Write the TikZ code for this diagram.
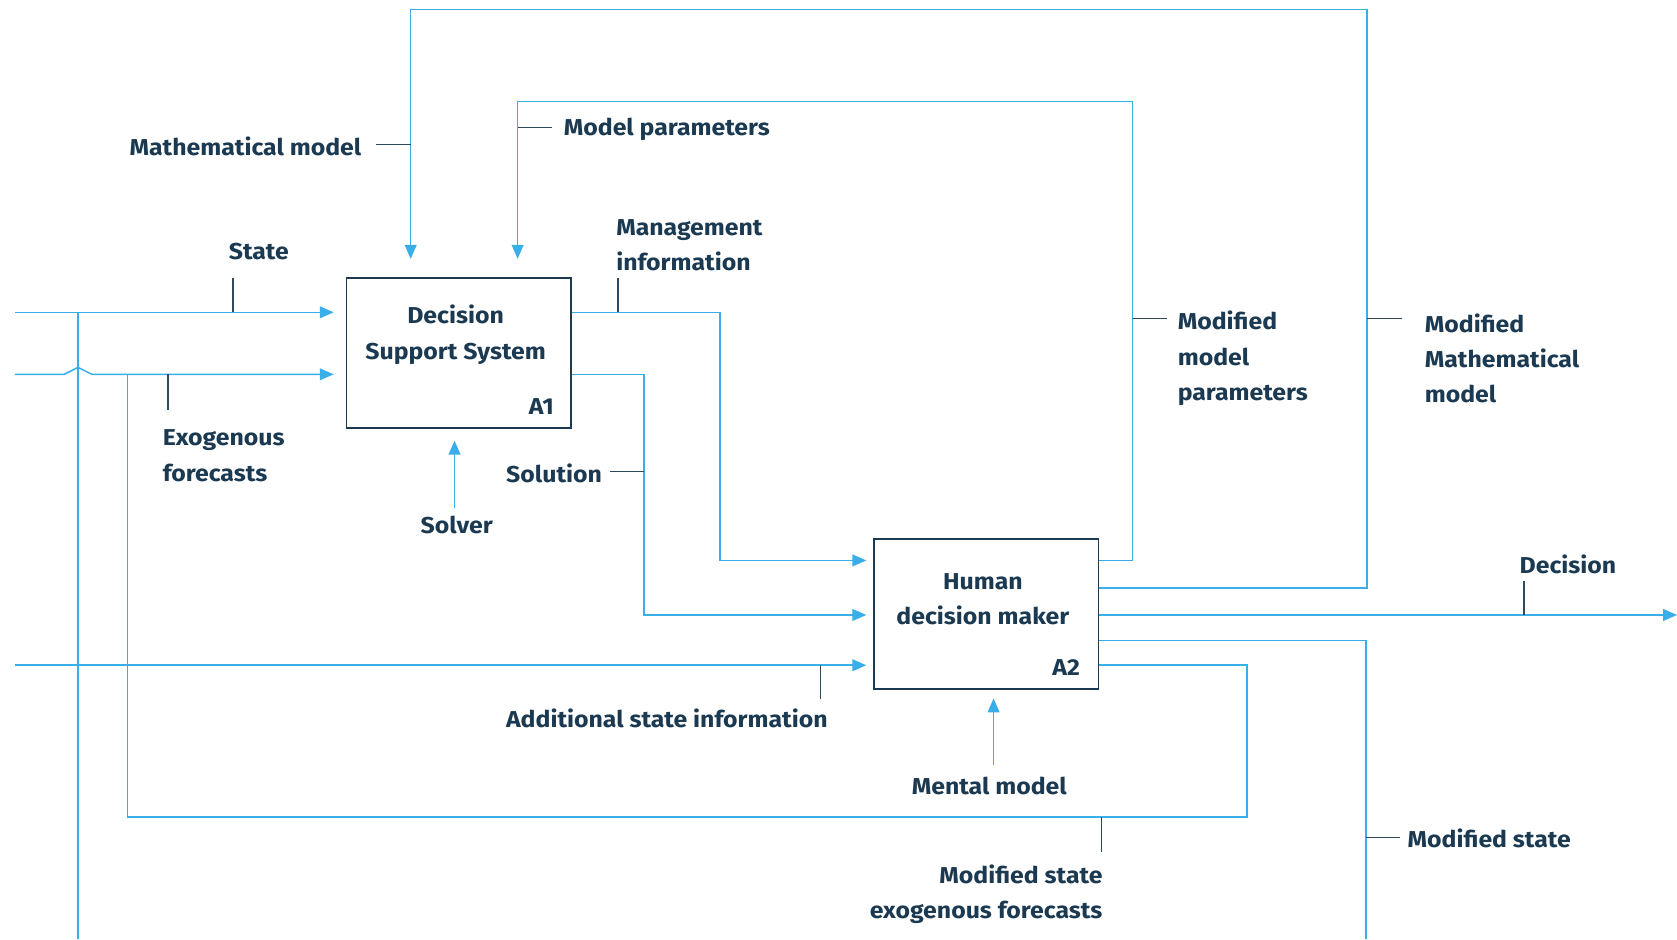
\documentclass[tikz,border=0pt]{standalone}
\usepackage{fontspec}
\setmainfont{Fira Sans}[FakeStretch=1.08]
\usetikzlibrary{arrows.meta}
\definecolor{flow}{HTML}{3AAEE8}
\definecolor{ink}{HTML}{1B3A52}
\definecolor{tickc}{HTML}{2E4A60}
\begin{document}
\begin{tikzpicture}[x=1pt,y=-1pt,
 flowline/.style={draw=flow,line width=1.4pt},
 arr/.style={flowline,-{Triangle[length=13pt,width=11pt]}},
 ticker/.style={draw=tickc,line width=1.4pt},
 box/.style={draw=ink,line width=1.4pt,minimum width=210pt,minimum height=140pt,inner sep=0},
 lbl/.style={text=ink,font=\fontsize{21.5}{33}\selectfont\bfseries,inner sep=0},
]
\useasboundingbox (0,0) rectangle (1568,878);

% boxes
\node[box] (dss) at (429,330) {};
\node[box] (hdm) at (922,574) {};
\node[lbl,align=center] (dsst) at (426,313) {Decision\\Support System};
\node[lbl,anchor=base east] (a1) at (518,388) {A1};
\node[lbl,align=center] (hdmt) at (919,560) {Human\\decision maker};
\node[lbl,anchor=base east] (a2) at (1010,632) {A2};

% free-end coordinates
\coordinate (stateIn) at (14,292);
\coordinate (exoIn) at (14,350);
\coordinate (addIn) at (14,622);
\coordinate (branchTop) at (73,292);
\coordinate (branchBot) at (73,878);
\coordinate (modStateEnd) at (1277,878);
\coordinate (decEnd) at (1568,575);
\coordinate (solverFrom) at (425,475);
\coordinate (mentalFrom) at (929,715);

% controls into A1
\draw[arr] (hdm.east |- 0,550) -| (1278,9) -| (384,242);
\draw[arr] (hdm.east |- 0,524) -| (1059,95) -| (484,242);

% inputs to A1
\draw[arr] (stateIn) -- (312,292);
\draw[arr] (exoIn) -- (60,350) -- (73,343.5) -- (86,350) -- (312,350);
\draw[flowline] (branchTop) -- (branchBot);

% feedback of modified state / exogenous forecasts
\draw[flowline] (hdm.east |- 0,622) -| (1166,764) -| (119,350);

% additional state information
\draw[arr] (addIn) -- (810,622);

% A1 outputs to A2
\draw[arr] (dss.east |- 0,292) -| (673,524) -- (810,524);
\draw[arr] (dss.east |- 0,350) -| (602,575) -- (810,575);

% A2 outputs
\draw[arr] (hdm.east |- 0,575) -- (decEnd);
\draw[flowline] (hdm.east |- 0,599) -| (modStateEnd);

% mechanisms
\draw[arr] (solverFrom) -- (425,412);
\draw[arr] (mentalFrom) -- (929,653);

% label ticks
\draw[ticker] (218,260) -- (218,292);
\draw[ticker] (578,260) -- (578,292);
\draw[ticker] (157,350) -- (157,383);
\draw[ticker] (352,135) -- (384,135);
\draw[ticker] (484,119) -- (516,119);
\draw[ticker] (570,441) -- (602,441);
\draw[ticker] (1059,298) -- (1091,298);
\draw[ticker] (1278,298) -- (1311,298);
\draw[ticker] (1425,543) -- (1425,575);
\draw[ticker] (767,622) -- (767,654);
\draw[ticker] (1030,764) -- (1030,797);
\draw[ticker] (1277,783) -- (1309,783);

% labels
\node[lbl,anchor=east] (lmath) at (338,137) {Mathematical model};
\node[lbl,anchor=west] (lpar) at (527,121) {Model parameters};
\node[lbl] (lstate) at (242,235) {State};
\node[lbl,anchor=west,align=left] (lmgmt) at (576,229) {Management\\information};
\node[lbl,anchor=west,align=left] (lexo) at (152,426) {Exogenous\\forecasts};
\node[lbl,anchor=east] (lsol) at (563,443) {Solution};
\node[lbl] (lsolver) at (427,491) {Solver};
\node[lbl,anchor=west,align=left] (lmmp) at (1101,335) {Modified\\model\\parameters};
\node[lbl,anchor=west,align=left] (lmmm) at (1332,335) {Modified\\Mathematical\\model};
\node[lbl] (ldec) at (1466,528) {Decision};
\node[lbl,anchor=east] (ladd) at (774,672) {Additional state information};
\node[lbl] (lmental) at (925,735) {Mental model};
\node[lbl,anchor=east,align=right] (lmse) at (1031,836) {Modified state\\exogenous forecasts};
\node[lbl,anchor=west] (lms) at (1316,784) {Modified state};
\end{tikzpicture}
\end{document}
